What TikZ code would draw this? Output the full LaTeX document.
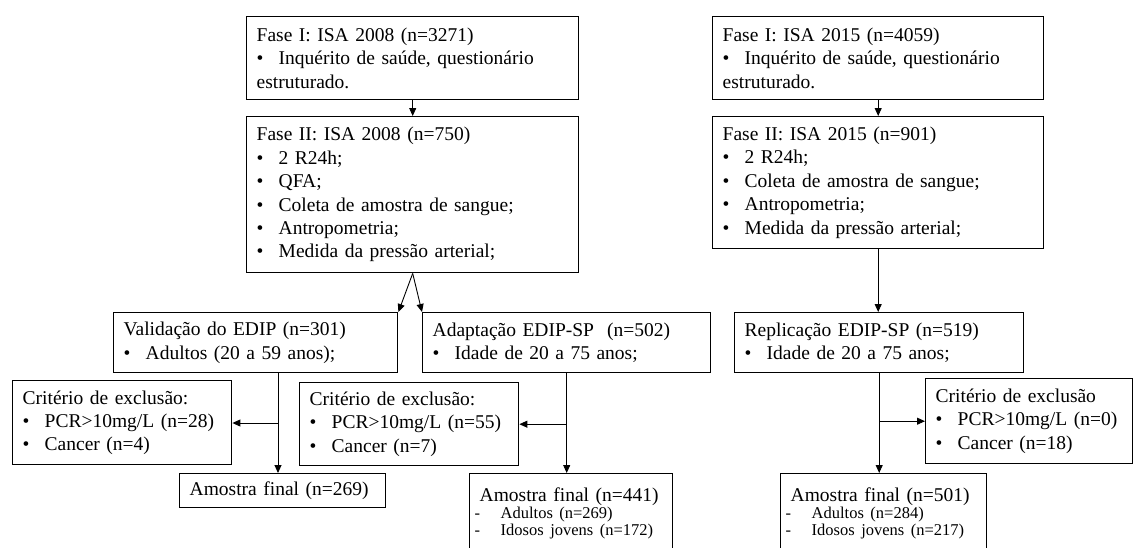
\documentclass[tikz,border=0pt]{standalone}
\usepackage{fontspec}
\setmainfont{Liberation Serif}
\usetikzlibrary{arrows.meta}

\newcommand{\marca}[1]{\par\hangindent=22pt\hangafter=1\noindent\makebox[22pt][l]{\textbullet}#1}
\newcommand{\traco}[1]{\par{\fontsize{16.5}{16.8}\selectfont\noindent\hspace*{-5pt}\makebox[26pt][l]{-}#1\par}}

\begin{document}
\begin{tikzpicture}[x=1pt,y=-1pt,>={Triangle[length=8pt,width=7pt]},
	caixa/.style={draw,line width=1.4pt,anchor=north west,align=left,
		inner xsep=10pt,inner ysep=0pt,font=\fontsize{19.5}{23.4}\selectfont},
	liga/.style={->,line width=0.9pt}]
	\useasboundingbox (0,0) rectangle (1133,547);
	\clip (0,0) rectangle (1133,547);
	% ISA 2008
	\node[caixa,text width=312pt,minimum height=83pt] (fase1a) at (246,16)
		{Fase I: ISA 2008 (n=3271)\marca{Inquérito de saúde, questionário\newline estruturado.}};
	\node[caixa,text width=312pt,minimum height=156pt] (fase2a) at (246,116)
		{Fase II: ISA 2008 (n=750)\marca{2 R24h;}\marca{QFA;}\marca{Coleta de amostra de sangue;}%
		\marca{Antropometria;}\marca{Medida da pressão arterial;}};
	\node[caixa,text width=264pt,minimum height=60pt] (valid) at (113,312)
		{Validação do EDIP (n=301)\marca{Adultos (20 a 59 anos);}};
	\node[caixa,text width=268pt,minimum height=60pt] (adapt) at (422,312)
		{Adaptação EDIP-SP \ (n=502)\marca{Idade de 20 a 75 anos;}};
	\node[caixa,text width=199pt,minimum height=84pt] (excl1) at (12,380)
		{Critério de exclusão:\marca{PCR>10mg/L (n=28)}\marca{Cancer (n=4)}};
	\node[caixa,text width=199pt,minimum height=83pt] (excl2) at (299,382)
		{Critério de exclusão:\marca{PCR>10mg/L (n=55)}\marca{Cancer (n=7)}};
	\node[caixa,text width=186pt,minimum height=34pt] (final1) at (179,473)
		{Amostra final (n=269)};
	\node[caixa,text width=183pt,minimum height=79pt] (final2) at (469,473)
		{Amostra final (n=441)\traco{Adultos (n=269)}\traco{Idosos jovens (n=172)}};
	% ISA 2015
	\node[caixa,text width=311pt,minimum height=83pt] (fase1b) at (712,16)
		{Fase I: ISA 2015 (n=4059)\marca{Inquérito de saúde, questionário\newline estruturado.}};
	\node[caixa,text width=311pt,minimum height=132pt] (fase2b) at (712,116)
		{Fase II: ISA 2015 (n=901)\marca{2 R24h;}\marca{Coleta de amostra de sangue;}%
		\marca{Antropometria;}\marca{Medida da pressão arterial;}};
	\node[caixa,text width=269pt,minimum height=60pt] (replic) at (734,312)
		{Replicação EDIP-SP (n=519)\marca{Idade de 20 a 75 anos;}};
	\node[caixa,text width=187pt,minimum height=85pt] (excl3) at (925,378)
		{Critério de exclusão\marca{PCR>10mg/L (n=0)}\marca{Cancer (n=18)}};
	\node[caixa,text width=186pt,minimum height=79pt] (final3) at (780,473)
		{Amostra final (n=501)\traco{Adultos (n=284)}\traco{Idosos jovens (n=217)}};

	\coordinate (j1) at (278,423);
	\draw[liga] (fase1a) -- (fase2a);
	\draw[liga] (fase2a.south) -- (valid.north east);
	\draw[liga] (fase2a.south) -- (adapt.north west);
	\draw[liga] (valid.south -| j1) -- (final1.north -| j1);
	\draw[liga] (j1) -- (excl1.east |- j1);
	\draw[liga] (adapt.south) -- (adapt.south |- final2.north);
	\draw[liga] (adapt.south |- excl2.east) -- (excl2.east);
	\draw[liga] (fase1b) -- (fase2b);
	\draw[liga] (fase2b.south) -- (fase2b.south |- replic.north);
	\draw[liga] (replic.south) -- (replic.south |- final3.north);
	\draw[liga] (replic.south |- excl3.west) -- (excl3.west);
\end{tikzpicture}
\end{document}
